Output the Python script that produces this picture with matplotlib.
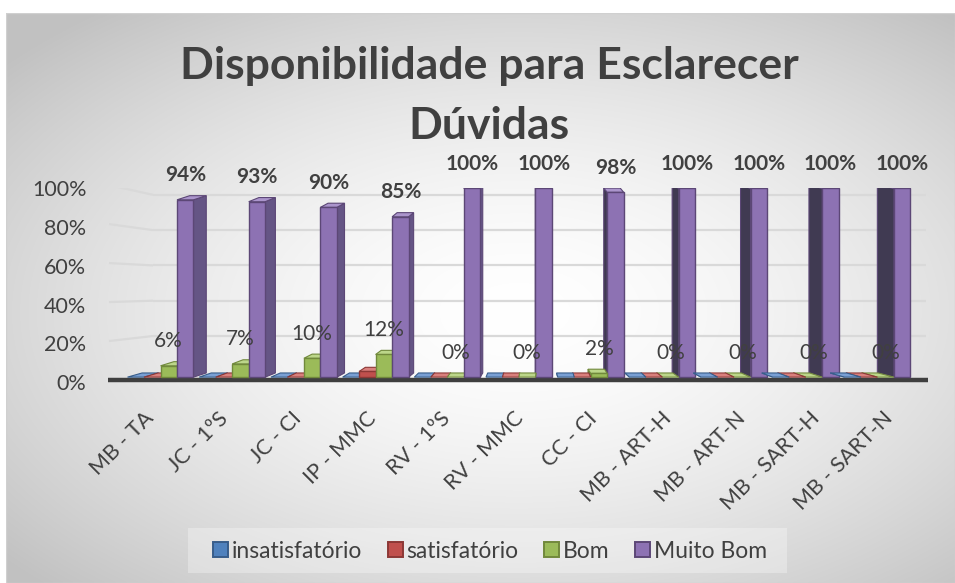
import numpy as np
import matplotlib
matplotlib.use("Agg")
import matplotlib.pyplot as plt
from matplotlib.patches import Polygon, Rectangle, Patch

# ---------------- data ----------------
categories = ["MB - TA", "JC - 1ºS", "JC - CI", "IP - MMC", "RV - 1ºS", "RV - MMC",
              "CC - CI", "MB - ART-H", "MB - ART-N", "MB - SART-H", "MB - SART-N"]
series_names = ["insatisfatório", "satisfatório", "Bom", "Muito Bom"]
insatisfatorio = [0, 0, 0, 0, 0, 0, 0, 0, 0, 0, 0]
satisfatorio = [0, 0, 0, 3, 0, 0, 0, 0, 0, 0, 0]
bom = [6, 7, 10, 12, 0, 0, 2, 0, 0, 0, 0]
muito_bom = [94, 93, 90, 85, 100, 100, 98, 100, 100, 100, 100]
ytick_values = [0, 20, 40, 60, 80, 100]
title_lines = ["Disponibilidade para Esclarecer", "Dúvidas"]

# ---------------- style ----------------
W, H, DPI = 955, 583, 100
FONT = ["Lato", "DejaVu Sans"]
plt.rcParams["font.family"] = FONT
TXT = "#404040"

front_c = ["#4F81BD", "#C0504D", "#9BBB59", "#8D72B3"]
top_c = ["#7aa0d4", "#d9807d", "#bcd68a", "#ab95cc"]
sideR_c = ["#3b6394", "#953b39", "#738a41", "#655585"]
sideL_c = ["#2c4a70", "#6e2c2a", "#55672f", "#403a52"]
edge_c = ["#385d8a", "#8c3836", "#71893c", "#5c4776"]

fig = plt.figure(figsize=(W / DPI, H / DPI), dpi=DPI)
fig.patch.set_facecolor("white")


def fx(px):
    return px / W


def fy(py):
    return 1 - py / H


# background: radial gradient chart area
bg = fig.add_axes([fx(6), 0, 1 - fx(6), fy(13)], zorder=-5)
gx = np.linspace(-1, 1, 400)
gy = np.linspace(-1, 1, 250)
GX, GY = np.meshgrid(gx, gy)
R = np.sqrt(((GX - 0.08) / 1.05) ** 2 + ((GY - 0.05) / 1.0) ** 2)
val = 1.0 - 0.24 * np.clip(R, 0, 1.35) ** 1.6 / 1.35 ** 1.6
img = np.dstack([val, val, val])
bg.imshow(img, aspect="auto", extent=[0, 1, 0, 1], interpolation="bilinear")
bg.set_xlim(0, 1)
bg.set_ylim(0, 1)
bg.axis("off")
bg.add_patch(Rectangle((0, 0), 1, 1, transform=bg.transAxes, fill=False,
                       edgecolor="#d0d0d0", lw=1.0))

# main axes: x center0 = 160.5px, spacing 71.7px ; y 0 -> 382px, 1 -> 188.5px
c0, sp = 160.5, 71.7
xl, xr = -0.8, 10.75
ybot, ytop = 382.0, 188.5
ax = fig.add_axes([fx(c0 + xl * sp), fy(ybot), (xr - xl) * sp / W, (ybot - ytop) / H])
ax.set_xlim(xl, xr)
ax.set_ylim(0, 1)
ax.patch.set_alpha(0)
for sname in ax.spines:
    ax.spines[sname].set_visible(False)

pxy = ybot - ytop  # px per unit


def py2d(py):
    return (ybot - py) / pxy


def px2d(px):
    return (px - c0) / sp


# gridlines: back wall + slanted side wall
for v in ytick_values[1:]:
    f = v / 100
    yb = py2d(376 - 181 * f)
    ys = py2d(385 - 200 * f)
    ax.plot([px2d(153), px2d(926)], [yb, yb], color="#d9d9d9", lw=1.6, zorder=1,
            solid_capstyle="butt")
    ax.plot([px2d(109), px2d(153)], [ys, yb], color="#d9d9d9", lw=1.6, zorder=1,
            solid_capstyle="butt")

# floor
ax.plot([px2d(108), px2d(928)], [py2d(385), py2d(385)], color="#3f3f3f", lw=3.2,
        zorder=2, solid_capstyle="butt", clip_on=False)

# tick labels
ax.set_yticks([py2d(387 - 198.5 * v / 100) for v in ytick_values],
              [f"{v}%" for v in ytick_values])
ax.tick_params(axis="y", length=0, pad=12, labelsize=15.5, labelcolor=TXT)
ax.set_xticks([px2d(151 + 73.9 * i) for i in range(len(categories))], categories)
ax.tick_params(axis="x", length=0, pad=24, labelsize=15.5, labelcolor=TXT)
for lab in ax.get_xticklabels():
    lab.set_rotation(45)
    lab.set_ha("right")
    lab.set_va("center")
    lab.set_rotation_mode("anchor")

# 3D-looking bars
series = [insatisfatorio, satisfatorio, bom, muito_bom]
w = 0.23
offs = (np.arange(4) - 1.5) * w
vx, dz = 5.3, 0.022
for i in range(len(categories)):
    for j, vals in enumerate(series):
        xc = i + offs[j]
        h = vals[i] / 100
        s = (0.036 if xc < vx else 0.046) * (vx - xc)
        x0, x1 = xc - w / 2, xc + w / 2
        order = j if s >= 0 else 3 - j
        z = 3 + order * 0.1
        xe = x1 if s >= 0 else x0
        sc = sideR_c[j] if s >= 0 else sideL_c[j]
        ax.add_patch(Polygon([(xe, 0), (xe, h), (xe + s, h + dz), (xe + s, dz)],
                             closed=True, facecolor=sc, edgecolor=edge_c[j], lw=0.8,
                             zorder=z))
        ax.add_patch(Polygon([(x0, h), (x1, h), (x1 + s, h + dz), (x0 + s, h + dz)],
                             closed=True, facecolor=top_c[j], edgecolor=edge_c[j], lw=0.8,
                             zorder=z + 0.01))
        if h > 0:
            ax.add_patch(Rectangle((x0, 0), w, h, facecolor=front_c[j],
                                   edgecolor=edge_c[j], lw=1.0, zorder=z + 0.02))
        if j == 3:
            ax.text(xc, h + 0.13, f"{vals[i]}%", ha="center", va="center",
                    fontsize=15, fontweight="bold", color=TXT, zorder=10, clip_on=False)
        if j == 2:
            ax.text(xc, h + 0.13, f"{vals[i]}%", ha="center", va="center",
                    fontsize=15, color=TXT, zorder=10, clip_on=False)

# title
fig.text(fx(489), fy(66), title_lines[0], ha="center", va="center",
         fontsize=32, fontweight="bold", color=TXT)
fig.text(fx(489), fy(126), title_lines[1], ha="center", va="center",
         fontsize=32, fontweight="bold", color=TXT)

# legend box + legend
fig.patches.append(Rectangle((fx(188), fy(573)), fx(787) - fx(188), fy(528) - fy(573),
                             transform=fig.transFigure, facecolor="white", alpha=0.3,
                             edgecolor="none", zorder=0))
handles = [Patch(facecolor=front_c[j], edgecolor=edge_c[j], lw=1.4) for j in range(4)]
fig.legend(handles, series_names, loc="center", bbox_to_anchor=(fx(490), fy(551)),
           ncol=4, frameon=False, fontsize=16.5, handlelength=0.65, handleheight=0.65,
           handletextpad=0.18, columnspacing=1.1, labelcolor=TXT)

fig.savefig("out.png", dpi=DPI)
